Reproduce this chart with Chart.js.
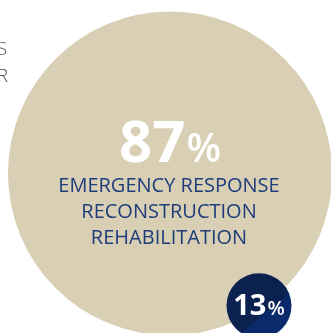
<!DOCTYPE html>
<html>
<head>
<meta charset="utf-8">
<script src="https://cdn.jsdelivr.net/npm/chart.js@4/dist/chart.umd.min.js"></script>
<style>
html,body{margin:0;padding:0;background:#fff;overflow:hidden;}
#c{display:block;}
</style>
</head>
<body>
<canvas id="c" width="331" height="333"></canvas>
<script>
// ---- data ----
const categories = ['Emergency response, reconstruction, rehabilitation', 'Other'];
const shareValues = [87, 13];
const shareLabels = ['87', '13'];
const mainCaption = ['EMERGENCY RESPONSE', 'RECONSTRUCTION', 'REHABILITATION'];
const sideLabels = ['S', 'R'];

// ---- styles ----
const beige = '#d9cfb5';
const navyDark = '#0b2150';
const navyLight = '#0a2a6c';
const captionColor = '#1e3d7b';
const radii = [162, 32.5];

const FONT = '"Open Sans", "Noto Sans", sans-serif';

const textPlugin = {
  id: 'textPlugin',
  afterDatasetsDraw(chart) {
    const ctx = chart.ctx;
    const pts = chart.getDatasetMeta(0).data;
    const p0 = pts[0], p1 = pts[1];
    ctx.save();
    ctx.textBaseline = 'alphabetic';

    // big value
    ctx.fillStyle = '#ffffff';
    ctx.font = '700 58px ' + FONT;
    const w87 = ctx.measureText(shareLabels[0]).width;
    ctx.font = '600 40px ' + FONT;
    const wp = ctx.measureText('%').width;
    let sx = p0.x - (w87 + wp + 1) / 2;
    ctx.textAlign = 'left';
    ctx.font = '700 58px ' + FONT;
    ctx.fillText(shareLabels[0], sx, p0.y - 11);
    ctx.font = '600 40px ' + FONT;
    ctx.fillText('%', sx + w87 + 1, p0.y - 11);

    // caption
    ctx.fillStyle = captionColor;
    ctx.textAlign = 'center';
    ctx.font = '400 20px ' + FONT;
    const offs = [18.5, 45, 70.5];
    mainCaption.forEach((t, i) => ctx.fillText(t, p0.x - 1, p0.y + offs[i]));

    // small value
    ctx.fillStyle = '#ffffff';
    ctx.textAlign = 'left';
    ctx.font = '700 29px ' + FONT;
    const w13 = ctx.measureText(shareLabels[1]).width;
    ctx.font = '600 20px ' + FONT;
    const wp2 = ctx.measureText('%').width;
    sx = p1.x - (w13 + wp2 + 1) / 2;
    ctx.font = '700 29px ' + FONT;
    ctx.fillText(shareLabels[1], sx, p1.y + 9.5);
    ctx.font = '600 20px ' + FONT;
    ctx.fillText('%', sx + w13 + 1, p1.y + 9.5);

    // cut-off side labels
    ctx.fillStyle = '#505050';
    ctx.textAlign = 'right';
    ctx.font = '300 19px ' + FONT;
    ctx.fillText(sideLabels[0], 7, 55);
    ctx.fillText(sideLabels[1], 8, 82);
    ctx.restore();
  }
};

function pointColor(c) {
  if (c.dataIndex === 0) return beige;
  const chart = c.chart;
  const xs = chart.scales.x, ys = chart.scales.y;
  if (!xs || !ys || !chart.chartArea) return navyDark;
  const cx = xs.getPixelForValue(1);
  const cy = ys.getPixelForValue(shareValues[1]);
  const R = radii[1];
  const nx = 0.64, ny = 0.77;
  const g = chart.ctx.createLinearGradient(cx - nx * R, cy - ny * R, cx + nx * R, cy + ny * R);
  g.addColorStop(0, navyDark);
  g.addColorStop(0.64, navyDark);
  g.addColorStop(0.66, navyLight);
  g.addColorStop(1, navyLight);
  return g;
}

new Chart(document.getElementById('c'), {
  type: 'line',
  data: {
    labels: categories,
    datasets: [{
      data: shareValues,
      showLine: false,
      clip: false,
      pointRadius: radii,
      pointHoverRadius: radii,
      pointBorderWidth: 0,
      pointHoverBorderWidth: 0,
      pointBackgroundColor: pointColor,
      pointHoverBackgroundColor: pointColor,
      pointBorderColor: 'rgba(0,0,0,0)'
    }]
  },
  options: {
    responsive: false,
    animation: false,
    events: [],
    layout: { autoPadding: false, padding: { left: 170, right: 72, top: 0, bottom: 4 } },
    plugins: { legend: { display: false }, tooltip: { enabled: false } },
    scales: {
      x: { display: false, offset: false },
      y: { display: false, min: 0, max: 184 }
    }
  },
  plugins: [textPlugin]
});
</script>
</body>
</html>
